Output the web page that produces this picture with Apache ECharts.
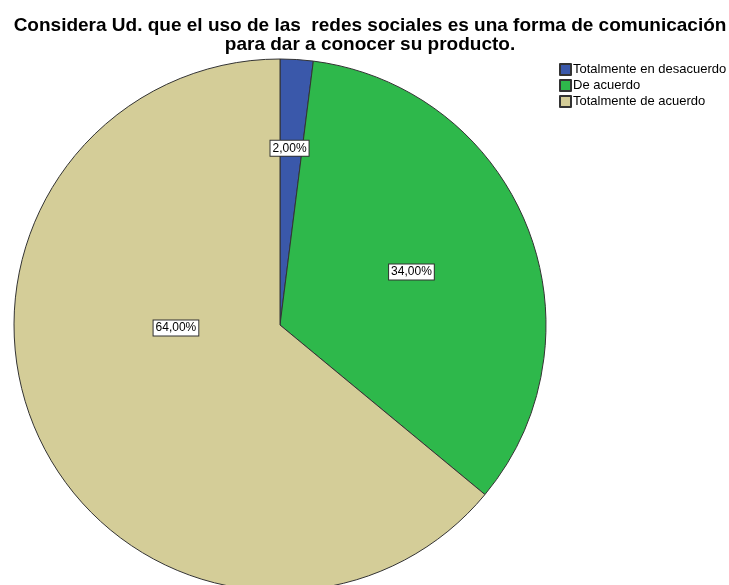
<!DOCTYPE html>
<html>
<head>
<meta charset="utf-8">
<script src="https://cdn.jsdelivr.net/npm/echarts@6/dist/echarts.min.js"></script>
<style>
  html, body { margin: 0; padding: 0; background: #fff; }
  #main { width: 729px; height: 585px; }
</style>
</head>
<body>
<div id="main"></div>
<script>
// datos del gráfico
var categories = ['Totalmente en desacuerdo', 'De acuerdo', 'Totalmente de acuerdo']
var values = [2, 34, 64]
var colors = ['#3a58aa', '#2eb84b', '#d4cd98']
// desplazamiento de etiquetas (como en el original)
var labelOffsets = [[1, -41], [5, -3], [19, -55]]

var chart = echarts.init(document.getElementById('main'))

var seriesData = values.map(function (v, i) {
  return {
    name: categories[i],
    value: v,
    itemStyle: { color: colors[i] },
    label: { offset: labelOffsets[i] }
  }
})

chart.setOption({
  animation: false,
  title: {
    text: 'Considera Ud. que el uso de las  redes sociales es una forma de comunicación\npara dar a conocer su producto.',
    left: 365,
    top: 11,
    textAlign: 'center',
    textStyle: {
      fontFamily: 'Liberation Sans, Arial, sans-serif',
      fontSize: 19,
      fontWeight: 'bold',
      color: '#000',
      lineHeight: 19
    }
  },
  legend: {
    orient: 'vertical',
    left: 554,
    top: 58,
    itemWidth: 11,
    itemHeight: 11,
    itemGap: 3,
    icon: 'rect',
    data: categories,
    textStyle: {
      fontFamily: 'Liberation Sans, Arial, sans-serif',
      fontSize: 13,
      color: '#000',
      padding: [0, 0, 0, -3]
    }
  },
  series: [{
    type: 'pie',
    center: [280, 325],
    radius: 266,
    startAngle: 90,
    clockwise: true,
    avoidLabelOverlap: false,
    itemStyle: { borderColor: '#333', borderWidth: 1 },
    emphasis: { disabled: true },
    label: {
      show: true,
      position: 'inside',
      formatter: function (p) { return p.value.toFixed(2).replace('.', ',') + '%' },
      fontFamily: 'Liberation Sans, Arial, sans-serif',
      fontSize: 12,
      color: '#000',
      backgroundColor: '#fff',
      borderColor: '#333',
      borderWidth: 1,
      padding: [2, 2, 1, 2]
    },
    labelLine: { show: false },
    data: seriesData
  }]
})
</script>
</body>
</html>
